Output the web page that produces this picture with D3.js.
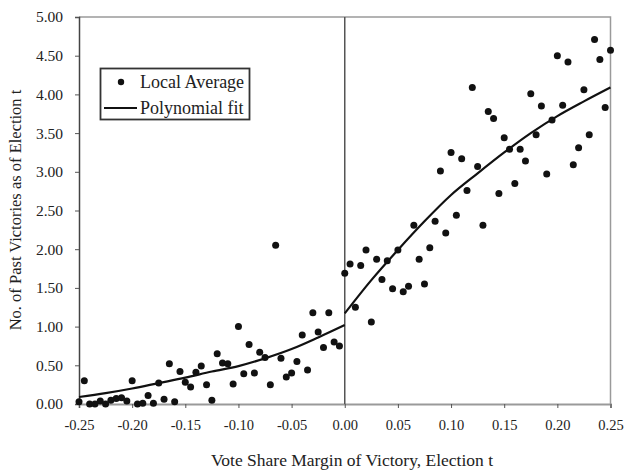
<!DOCTYPE html>
<html>
<head>
<meta charset="utf-8">
<script src="https://cdn.jsdelivr.net/npm/d3@7/dist/d3.min.js"></script>
<style>
  html, body { margin: 0; padding: 0; background: #fff; }
  svg { display: block; }
</style>
</head>
<body>
<svg id="chart" width="624" height="474"></svg>
<script>
const SERIF = '"Liberation Serif"';

// Vote-share margin bins (left of the cutoff: losers, right: winners)
const marginLeft = [-0.250,-0.245,-0.240,-0.235,-0.230,-0.225,-0.220,-0.215,-0.210,-0.205,
  -0.200,-0.195,-0.190,-0.185,-0.180,-0.175,-0.170,-0.165,-0.160,-0.155,
  -0.150,-0.145,-0.140,-0.135,-0.130,-0.125,-0.120,-0.115,-0.110,-0.105,
  -0.100,-0.095,-0.090,-0.085,-0.080,-0.075,-0.070,-0.065,-0.060,-0.055,
  -0.050,-0.045,-0.040,-0.035,-0.030,-0.025,-0.020,-0.015,-0.010,-0.005];
const avgLeft = [0.03,0.30,0.00,0.00,0.04,0.00,0.05,0.07,0.08,0.04,
  0.30,0.00,0.01,0.11,0.01,0.27,0.06,0.52,0.03,0.42,
  0.28,0.22,0.41,0.49,0.25,0.05,0.65,0.53,0.52,0.26,
  1.00,0.39,0.77,0.40,0.67,0.60,0.25,2.05,0.59,0.35,
  0.40,0.55,0.89,0.44,1.18,0.93,0.73,1.18,0.80,0.75];

const marginRight = [0.000,0.005,0.010,0.015,0.020,0.025,0.030,0.035,0.040,0.045,
  0.050,0.055,0.060,0.065,0.070,0.075,0.080,0.085,0.090,0.095,
  0.100,0.105,0.110,0.115,0.120,0.125,0.130,0.135,0.140,0.145,
  0.150,0.155,0.160,0.165,0.170,0.175,0.180,0.185,0.190,0.195,
  0.200,0.205,0.210,0.215,0.220,0.225,0.230,0.235,0.240,0.245,0.250];
const avgRight = [1.69,1.81,1.25,1.79,1.99,1.06,1.87,1.61,1.85,1.49,
  1.99,1.45,1.52,2.31,1.87,1.55,2.02,2.36,3.01,2.21,
  3.25,2.44,3.17,2.76,4.09,3.07,2.31,3.78,3.69,2.72,
  3.44,3.29,2.85,3.29,3.14,4.01,3.48,3.85,2.97,3.67,
  4.50,3.86,4.42,3.09,3.31,4.06,3.48,4.71,4.45,3.83,4.57];

// Fitted polynomial, sampled on each side of the cutoff
const fitLeftX  = [-0.250,-0.225,-0.200,-0.175,-0.150,-0.125,-0.100,-0.075,-0.050,-0.025,0.000];
const fitLeftY  = [0.09,0.14,0.20,0.27,0.34,0.42,0.49,0.59,0.71,0.86,1.02];
const fitRightX = [0.000,0.025,0.050,0.075,0.100,0.125,0.150,0.175,0.200,0.225,0.250];
const fitRightY = [1.17,1.60,1.99,2.36,2.70,2.98,3.25,3.50,3.72,3.91,4.09];

const xTicks = [-0.25,-0.20,-0.15,-0.10,-0.05,0.00,0.05,0.10,0.15,0.20,0.25];
const xTickLabels = ["-0.25","-0.20","-0.15","-0.10","-0.05","0.00","0.05","0.10","0.15","0.20","0.25"];
const yTicks = [0,0.5,1,1.5,2,2.5,3,3.5,4,4.5,5];
const yTickLabels = ["0.00","0.50","1.00","1.50","2.00","2.50","3.00","3.50","4.00","4.50","5.00"];

const svg = d3.select("#chart");
const x = d3.scaleLinear().domain([-0.25, 0.25]).range([79, 610.5]);
const y = d3.scaleLinear().domain([0, 5]).range([404, 17]);

// plot frame (top and right edges)
svg.append("path")
  .attr("d", `M${x(-0.25)},${y(5)}H${x(0.25)}V${y(0)}`)
  .attr("fill", "none").attr("stroke", "#9a9a9a").attr("stroke-width", 1.5);

// y axis
const yAxis = svg.append("g")
  .attr("transform", `translate(${x(-0.25)},0)`)
  .call(d3.axisLeft(y).tickValues(yTicks).tickSize(4).tickPadding(12)
    .tickFormat((d, i) => yTickLabels[i]));
yAxis.select(".domain").attr("stroke", "#444").attr("stroke-width", 1.5);
yAxis.selectAll(".tick line").attr("stroke", "#555");
yAxis.selectAll(".tick text").attr("fill", "#222")
  .style("font-family", SERIF).style("font-size", "15.5px");

// x axis
const xAxis = svg.append("g")
  .attr("transform", `translate(0,${y(0)})`)
  .call(d3.axisBottom(x).tickValues(xTicks).tickSize(4).tickPadding(12)
    .tickFormat((d, i) => xTickLabels[i]));
xAxis.select(".domain").attr("stroke", "#9a9a9a").attr("stroke-width", 2);
xAxis.selectAll(".tick line").attr("stroke", "#555");
xAxis.selectAll(".tick text").attr("fill", "#222")
  .style("font-family", SERIF).style("font-size", "14.5px");

// cutoff line at zero margin
svg.append("line")
  .attr("x1", x(0)).attr("x2", x(0)).attr("y1", y(5)).attr("y2", y(0))
  .attr("stroke", "#555").attr("stroke-width", 1.5);

// local averages
const pts = marginLeft.map((m, i) => [m, avgLeft[i]])
  .concat(marginRight.map((m, i) => [m, avgRight[i]]));
svg.append("g").selectAll("circle").data(pts).join("circle")
  .attr("cx", d => x(d[0])).attr("cy", d => y(d[1])).attr("r", 3.5)
  .attr("fill", "#111");

// polynomial fit, one piece on each side
const line = d3.line().x(d => x(d[0])).y(d => y(d[1])).curve(d3.curveMonotoneX);
[[fitLeftX, fitLeftY], [fitRightX, fitRightY]].forEach(([fx, fy]) => {
  svg.append("path")
    .datum(fx.map((v, i) => [v, fy[i]]))
    .attr("d", line).attr("fill", "none")
    .attr("stroke", "#111").attr("stroke-width", 2.2);
});

// axis titles
svg.append("text")
  .attr("x", 352).attr("y", 466).attr("text-anchor", "middle").attr("fill", "#222")
  .style("font-family", SERIF).style("font-size", "17.5px")
  .text("Vote Share Margin of Victory, Election t");
svg.append("text")
  .attr("transform", "translate(21,210) rotate(-90)").attr("text-anchor", "middle").attr("fill", "#222")
  .style("font-family", SERIF).style("font-size", "16.5px")
  .text("No. of Past Victories as of Election t");

// legend
const lg = svg.append("g");
lg.append("rect").attr("x", 100.5).attr("y", 68.5).attr("width", 149).attr("height", 51)
  .attr("fill", "#fff").attr("stroke", "#333").attr("stroke-width", 1.8);
lg.append("circle").attr("cx", 121).attr("cy", 82).attr("r", 3.2).attr("fill", "#111");
lg.append("text").attr("x", 140).attr("y", 88).attr("fill", "#222")
  .style("font-family", SERIF).style("font-size", "18px").text("Local Average");
lg.append("line").attr("x1", 104).attr("x2", 137).attr("y1", 108).attr("y2", 108)
  .attr("stroke", "#111").attr("stroke-width", 2.2);
lg.append("text").attr("x", 140).attr("y", 114).attr("fill", "#222")
  .style("font-family", SERIF).style("font-size", "18px").text("Polynomial fit");
</script>
</body>
</html>
